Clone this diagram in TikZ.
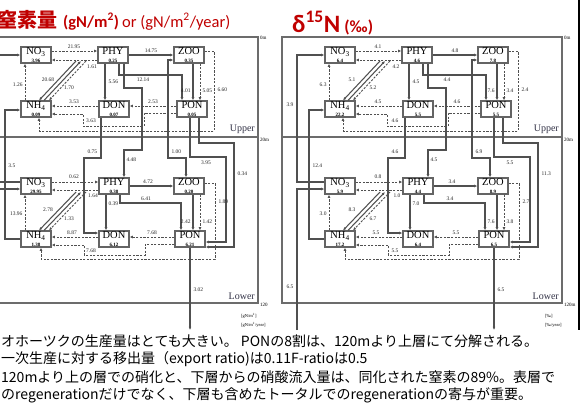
\documentclass[tikz,border=0pt]{standalone}
\usepackage{fontspec}
\usetikzlibrary{arrows.meta}
\newfontfamily\dfont{Liberation Serif}
\newfontfamily\cfont{Carlito}
\newfontfamily\jfont{Noto Sans CJK JP}
\definecolor{lc}{RGB}{80,80,80}
\definecolor{bx}{RGB}{100,100,100}
\definecolor{tred}{RGB}{192,0,0}
\definecolor{ul}{RGB}{50,50,70}
\newcommand\V[2]{\ifnum\side=1 #1\else #2\fi}
\tikzset{
  bxs/.style={draw=bx, line width=1.2pt, fill=white, minimum width=30pt, minimum height=16pt,
    inner sep=0pt, align=center, font=\dfont\fontsize{10.5}{7.5}\selectfont},
  sl/.style={draw=lc, line width=1.05pt, -{Latex[length=3.2pt,width=2.8pt]}},
  dsl/.style={sl, line width=0.9pt, dash pattern=on 2.2pt off 1.4pt},
  frm/.style={draw=gray!85!black, line width=1.4pt},
  lab/.style={font=\dfont\fontsize{5.5}{6}\selectfont, inner sep=0.3pt, text=black!85},
  dep/.style={font=\dfont\fontsize{5}{5}\selectfont, inner sep=0pt, anchor=west},
  zone/.style={font=\dfont\fontsize{10}{10}\selectfont, inner sep=0pt, text=ul, anchor=south east},
}
\newcommand\bv[1]{\\{\fontsize{5}{5}\selectfont\bfseries #1}}
\newcommand\netw{%
  % frame
  \draw[frm] (282,37) rectangle (562,303);
  \draw[frm] (282,137) -- (562,137);
  \node[dep] at (564,38) {0m};
  \node[dep] at (564,140) {20m};
  \node[dep] at (564,305) {\V{120m}{120}};
  \node[zone] at (559,134) {Upper};
  \node[zone] at (559,300) {Lower};
  \node[dep,font=\dfont\fontsize{4.5}{4.5}\selectfont] at (545,316) {\V{[‰]}{[gN/m\textsuperscript{2}]}};
  \node[dep,font=\dfont\fontsize{4.5}{4.5}\selectfont] at (545,325) {\V{[‰/year]}{[gN/m\textsuperscript{2}/year]}};
  % boxes
  \node[bxs] (no3u) at (340,55) {NO\textsubscript{3}\bv{\V{6.4}{3.96}}};
  \node[bxs] (phyu) at (417,55) {PHY\bv{\V{4.6}{0.25}}};
  \node[bxs] (zoou) at (493,55) {ZOO\bv{\V{7.8}{0.35}}};
  \node[bxs] (nh4u) at (340,109) {NH\textsubscript{4}\bv{\V{22.2}{0.09}}};
  \node[bxs] (donu) at (418,109) {DON\bv{\V{5.5}{0.07}}};
  \node[bxs] (ponu) at (496,109) {PON\bv{\V{5.5}{0.05}}};
  \node[bxs] (no3l) at (340,186) {NO\textsubscript{3}\bv{\V{5.9}{29.95}}};
  \node[bxs] (phyl) at (418,186) {PHY\bv{\V{4.4}{0.38}}};
  \node[bxs] (zool) at (493,186) {ZOO\bv{\V{8.9}{0.20}}};
  \node[bxs] (nh4l) at (340,239) {NH\textsubscript{4}\bv{\V{17.2}{1.38}}};
  \node[bxs] (donl) at (418,239) {DON\bv{\V{6.4}{6.12}}};
  \node[bxs] (ponl) at (494,239) {PON\bv{\V{6.5}{6.21}}};
  % ---------- upper layer
  \draw[dsl] (no3u.east |- 0,51) -- (phyu.west |- 0,51);
  \node[lab] at (378,47) {\V{4.1}{21.95}};
  \draw[dsl] (phyu.west |- 0,60) -- (no3u.east |- 0,60);
  \node[lab] at (396,67) {\V{4.2}{1.61}};
  \draw[sl] (380,61) -- (nh4u.north -| 343,0);
  \draw[sl,{Latex[length=3.2pt,width=2.8pt]}-] (385,61) -- (nh4u.north -| 348,0);
  \draw[dsl] (390,61) -- (nh4u.north -| 353,0);
  \node[lab] at (352,80) {\V{5.1}{20.68}};
  \node[lab] at (373,88) {\V{5.2}{1.70}};
  \draw[dsl] (nh4u.north -| 329,0) -- (no3u.south -| 329,0);
  \node[lab,anchor=east] at (327,85) {\V{6.3}{1.26}};
  \draw[sl] (phyu.south -| 409,0) -- (donu.north -| 409,0);
  \node[lab,anchor=west] at (412,82) {\V{4.5}{5.56}};
  \draw[sl] (phyu.east) -- (zoou.west);
  \node[lab] at (455,51) {\V{4.8}{14.75}};
  \draw[sl] (phyu.south -| 423,0) -- (423,75) -- (486,75) -- (ponu.north -| 486,0);
  \node[lab] at (447,80) {\V{4.4}{12.14}};
  \draw[sl] (phyu.south -| 428,0) -- (428,88) -- (446,88) -- (446,150) -- (428,150) -- (phyl.north -| 428,0);
  \node[lab,anchor=west] at (430,160) {\V{4.5}{4.48}};
  \draw[sl,{Latex[length=3.2pt,width=2.8pt]}-{Latex[length=3.2pt,width=2.8pt]}]
    (zoou.west |- 0,60) -- (472,60) -- (472,158) -- (490,158) -- (zool.north -| 490,0);
  \node[lab,anchor=west] at (475,152) {\V{6.9}{1.00}};
  \draw[sl] (zoou.south -| 497,0) -- (ponu.north -| 497,0);
  \node[lab,anchor=east] at (495,91) {\V{7.6}{4.01}};
  \draw[dsl] (zoou.south -| 504,0) -- (ponu.north -| 504,0);
  \node[lab,anchor=west] at (506,91) {\V{3.4}{5.05}};
  \draw[dsl] (zoou.east |- 0,51) -- (518,51) -- (518,131) -- (343,131) -- (nh4u.south -| 343,0);
  \node[lab,anchor=west] at (521,90) {\V{2.4}{6.60}};
  \draw[dsl] (ponu.west |- 0,106) -- (donu.east |- 0,106);
  \node[lab] at (457,102) {\V{4.6}{2.53}};
  \draw[dsl] (donu.west |- 0,106) -- (nh4u.east |- 0,106);
  \node[lab] at (378,102) {\V{4.5}{3.53}};
  \draw[dsl] (ponu.west |- 0,113) -- (448,113) -- (448,126) -- (387,126) -- (387,114) -- (nh4u.east |- 0,114);
  \node[lab] at (395,121) {\V{4.6}{3.63}};
  % ---------- vertical exchanges
  \draw[sl] (no3l.west |- 0,182) -- (297,182) -- (297,55) -- (no3u.west);
  \node[lab] at (290,105) {\V{3.9}{}};
  \draw[sl] (nh4l.west) -- (309,239) -- (309,110) -- (nh4u.west |- 0,110);
  \node[lab,anchor=west] at (312,166) {\V{12.4}{3.5}};
  \draw[sl] (donu.south -| 405,0) -- (405,158) -- (388,158) -- (388,233) -- (donl.west |- 0,233);
  \node[lab,anchor=west] at (391,152) {\V{4.6}{0.75}};
  \draw[sl] (ponu.south -| 494,0) -- (494,157) -- (530,157) -- (530,242) -- (ponl.east |- 0,242);
  \node[lab] at (510,163) {\V{5.5}{3.95}};
  \draw[sl] (ponu.south -| 503,0) -- (503,143) -- (538,143) -- (538,247) -- (ponl.east |- 0,247);
  \node[lab,anchor=west] at (541,174) {\V{11.3}{0.34}};
  % ---------- lower layer
  \draw[dsl] (no3l.east |- 0,182) -- (phyl.west |- 0,182);
  \node[lab] at (378,177) {\V{0.8}{0.62}};
  \draw[dsl] (phyl.west |- 0,190) -- (no3l.east |- 0,190);
  \node[lab] at (397,196) {\V{1.0}{1.64}};
  \draw[sl] (380,192) -- (nh4l.north -| 343,0);
  \draw[sl,{Latex[length=3.2pt,width=2.8pt]}-] (385,192) -- (nh4l.north -| 348,0);
  \draw[dsl] (390,192) -- (nh4l.north -| 353,0);
  \node[lab] at (352,210) {\V{8.3}{2.78}};
  \node[lab] at (373,219) {\V{6.7}{1.33}};
  \draw[dsl] (nh4l.north -| 329,0) -- (no3l.south -| 329,0);
  \node[lab,anchor=east] at (327,214) {\V{3.0}{13.96}};
  \draw[sl] (phyl.east) -- (zool.west);
  \node[lab] at (452,182) {\V{3.4}{4.72}};
  \draw[sl] (phyl.south -| 424,0) -- (424,203) -- (485,203) -- (ponl.north -| 485,0);
  \node[lab] at (450,199) {\V{3.4}{6.41}};
  \draw[sl] (phyl.south -| 410,0) -- (donl.north -| 410,0);
  \node[lab,anchor=west] at (412,204) {\V{7.0}{0.39}};
  \draw[sl] (zool.south -| 497,0) -- (ponl.north -| 497,0);
  \node[lab,anchor=east] at (495,222) {\V{7.6}{2.42}};
  \draw[dsl] (zool.south -| 504,0) -- (ponl.north -| 504,0);
  \node[lab,anchor=west] at (506,222) {\V{3.8}{1.42}};
  \draw[dsl] (zool.east |- 0,183) -- (519,183) -- (519,259) -- (345,259) -- (nh4l.south -| 345,0);
  \node[lab,anchor=west] at (522,202) {\V{2.7}{1.89}};
  \draw[dsl] (ponl.west |- 0,237) -- (donl.east |- 0,237);
  \node[lab] at (456,233) {\V{5.5}{7.68}};
  \draw[dsl] (donl.west |- 0,237) -- (nh4l.east |- 0,237);
  \node[lab] at (376,233) {\V{5.5}{8.87}};
  \draw[dsl] (ponl.west |- 0,244) -- (449,244) -- (449,255) -- (388,255) -- (388,245) -- (nh4l.east |- 0,245);
  \node[lab] at (395,251) {\V{5.5}{7.68}};
  \draw[sl] (ponl.south -| 494,0) -- (494,330);
  \node[lab,anchor=west] at (497,290) {\V{6.5}{3.02}};
  \draw[sl] (297,330) -- (297,189) -- (no3l.west |- 0,189);
  \node[lab] at (290,287) {\V{6.5}{}};
}
\begin{document}
\begin{tikzpicture}[x=1pt,y=-1pt]
\useasboundingbox (0,0) rectangle (583,416);
\clip (0,0) rectangle (583,416);
\fill[white] (0,0) rectangle (583,416);
\begin{scope}[name prefix=R-]
  \def\side{1}
  \netw
\end{scope}
\begin{scope}[xshift=-304pt, name prefix=L-]
  \def\side{0}
  \netw
\end{scope}
\draw[line width=2.2pt] (579,0) -- (579,330);
% titles
\node[anchor=base west, inner sep=0, text=tred] (t1) at (-3,27)
  {\jfont\bfseries\fontsize{20}{20}\selectfont 窒素量};
\node[anchor=base west, inner sep=0, text=tred] (t2) at (63,27)
  {\cfont\bfseries\fontsize{16.5}{17}\selectfont (gN/m\textsuperscript{2})};
\node[anchor=base west, inner sep=0, text=tred] (t3) at (122,27)
  {\cfont\fontsize{16.5}{17}\selectfont or (gN/m\textsuperscript{2}/year)};
\node[anchor=base west, inner sep=0, text=tred] (t4) at (292,32)
  {\cfont\bfseries\fontsize{25}{25}\selectfont δ\textsuperscript{15}N\,{\fontsize{17}{17}\selectfont (‰)}};
% bottom text
\begin{scope}[every node/.style={anchor=west, inner sep=0, font=\jfont\fontsize{14}{16}\selectfont}]
\node (b1) at (1,341) {オホーツクの生産量はとても大きい。 PONの8割は、120mより上層にて分解される。};
\node (b2) at (1,359) {一次生産に対する移出量（export ratio)は0.11F-ratioは0.5};
\node (b3) at (1,377) {120mより上の層での硝化と、下層からの硝酸流入量は、同化された窒素の89\%。表層で};
\node (b4) at (1,395) {のregenerationだけでなく、下層も含めたトータルでのregenerationの寄与が重要。};
\end{scope}
\end{tikzpicture}
\end{document}
